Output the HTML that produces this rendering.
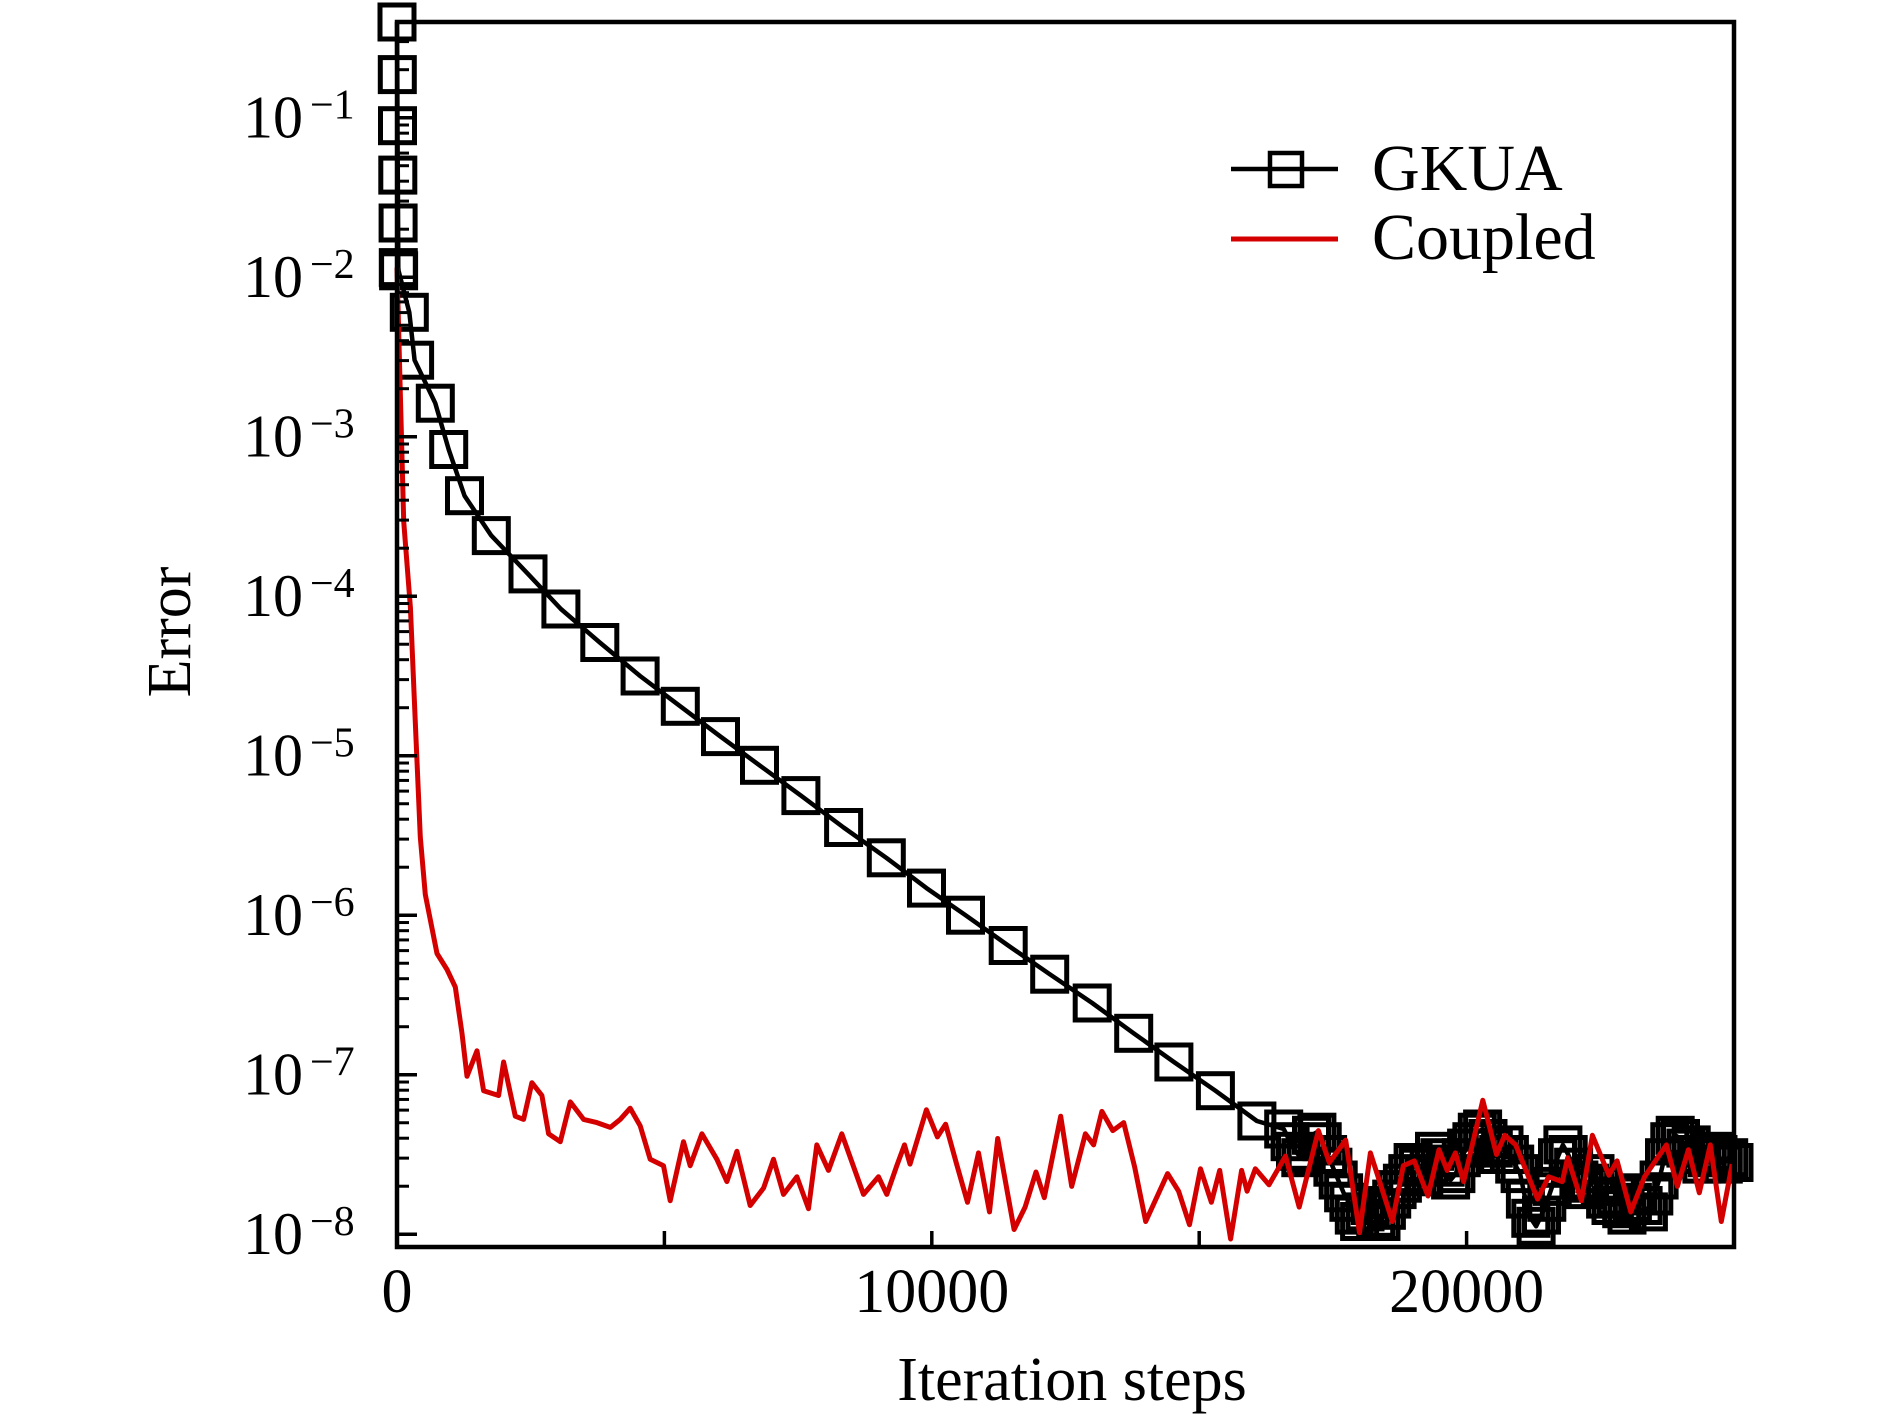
<!DOCTYPE html>
<html><head><meta charset="utf-8"><style>
html,body{margin:0;padding:0;background:#fff;}
svg{display:block;}
text{font-family:"Liberation Serif",serif;fill:#000;}
</style></head><body>
<svg id="chart" width="1890" height="1418" viewBox="0 0 1890 1418" xmlns="http://www.w3.org/2000/svg">
<g id="plot"></g>
<g id="axes"></g>
<text x="1072" y="1400" font-size="62" text-anchor="middle">Iteration steps</text>
<text transform="translate(190,632) rotate(-90)" font-size="62" text-anchor="middle">Error</text>
<g>
  <line x1="1231" y1="169" x2="1338" y2="169" stroke="#000" stroke-width="4.5"/>
  <rect x="1270" y="153" width="32" height="33" fill="none" stroke="#000" stroke-width="4.5"/>
  <text x="1372" y="190" font-size="66">GKUA</text>
  <line x1="1231" y1="239" x2="1338" y2="239" stroke="#d40000" stroke-width="5"/>
  <text x="1372" y="259" font-size="66">Coupled</text>
</g>
</svg>
<script>
const gkuaIter = [0,5,10,15,20,25,30,230,330,716,966,1263,1764,2449,3064,3793,4546,5297,6049,6779,7553,8351,9149,9900,10630,11428,12204,13000,13775,14527,15303,16079,16580];
const gkuaLog = [-0.40,-0.73,-1.05,-1.36,-1.66,-1.94,-1.96,-2.22,-2.52,-2.79,-3.08,-3.37,-3.62,-3.86,-4.08,-4.29,-4.50,-4.69,-4.88,-5.06,-5.25,-5.45,-5.64,-5.83,-6.00,-6.19,-6.37,-6.55,-6.74,-6.92,-7.10,-7.29,-7.34];
const gkuaNoisyStart = 16700;
const gkuaNoisyStep = 100;
const gkuaNoisyLog = [-7.42,-7.48,-7.52,-7.50,-7.38,-7.36,-7.42,-7.50,-7.58,-7.66,
-7.74,-7.80,-7.88,-7.92,-7.86,-7.82,-7.90,-7.92,-7.85,-7.78,
-7.72,-7.68,-7.62,-7.55,-7.58,-7.64,-7.56,-7.48,-7.52,-7.58,
-7.66,-7.62,-7.52,-7.46,-7.42,-7.36,-7.34,-7.40,-7.46,-7.50,
-7.44,-7.50,-7.56,-7.62,-7.78,-7.90,-7.95,-7.88,-7.80,-7.70,
-7.52,-7.44,-7.50,-7.58,-7.66,-7.72,-7.68,-7.62,-7.70,-7.78,
-7.82,-7.76,-7.84,-7.88,-7.80,-7.74,-7.82,-7.86,-7.76,-7.66,
-7.52,-7.42,-7.38,-7.40,-7.46,-7.44,-7.50,-7.56,-7.52,-7.48,
-7.50,-7.56,-7.52,-7.55];
const coupledIter = [0,125,250,343,436,530,748,935,1090,1215,1308,1495,1620,1900,1994,2212,2368,2523,2710,2835,3053,3240,3489,3738,3988,4174,4361,4548,4735,4984,5109,5358,5483,5701,5981,6168,6355,6604,6854,7040,7227,7477,7695,7850,8069,8318,8723,9003,9159,9346,9489,9592,9899,10104,10258,10463,10668,10873,11078,11232,11539,11744,11949,12103,12410,12615,12872,13026,13180,13384,13589,13794,13999,14409,14614,14819,15024,15229,15383,15588,15793,15896,16049,16306,16613,16869,17228,17433,17740,17997,18202,18612,18817,19022,19278,19483,19637,19791,19944,20303,20559,20713,20918,21328,21533,21789,21891,22147,22353,22660,22814,23070,23326,23736,23941,24147,24352,24557,24762,24967];
const coupledLog = [-1.94,-3.53,-4.07,-4.79,-5.51,-5.87,-6.24,-6.34,-6.45,-6.74,-7.01,-6.85,-7.10,-7.13,-6.92,-7.26,-7.28,-7.05,-7.13,-7.37,-7.42,-7.17,-7.28,-7.30,-7.33,-7.28,-7.21,-7.32,-7.53,-7.57,-7.79,-7.42,-7.57,-7.37,-7.53,-7.67,-7.48,-7.82,-7.71,-7.53,-7.75,-7.64,-7.84,-7.44,-7.60,-7.37,-7.75,-7.64,-7.75,-7.57,-7.44,-7.56,-7.22,-7.39,-7.31,-7.56,-7.80,-7.49,-7.86,-7.40,-7.97,-7.83,-7.61,-7.77,-7.26,-7.70,-7.37,-7.44,-7.23,-7.35,-7.30,-7.58,-7.92,-7.62,-7.73,-7.94,-7.59,-7.80,-7.60,-8.03,-7.60,-7.73,-7.59,-7.69,-7.51,-7.83,-7.35,-7.55,-7.41,-7.99,-7.49,-7.92,-7.57,-7.54,-7.76,-7.47,-7.60,-7.49,-7.67,-7.16,-7.50,-7.38,-7.44,-7.78,-7.64,-7.67,-7.52,-7.79,-7.38,-7.63,-7.54,-7.86,-7.64,-7.44,-7.70,-7.47,-7.74,-7.44,-7.92,-7.56];
const xTicks = [0,5000,10000,15000,20000,25000];
const xTickLabels = ["0","10000","20000"];
const xTickLabelVals = [0,10000,20000];
const yDecades = [-8,-7,-6,-5,-4,-3,-2,-1];

const L=397,R=1734,T=22,B=1247;
const X0=0,X1=25000;
const LOGTOP=-0.40, LOGBOT=-8.08;
function sx(v){return L+(v-X0)/(X1-X0)*(R-L);}
function sy(lg){return T+(LOGTOP-lg)/(LOGTOP-LOGBOT)*(B-T);}
const NS="http://www.w3.org/2000/svg";
function mk(tag,attrs,parent){const e=document.createElementNS(NS,tag);for(const k in attrs)e.setAttribute(k,attrs[k]);parent.appendChild(e);return e;}
const plot=document.getElementById('plot'), axes=document.getElementById('axes');

const allIter = gkuaIter.slice(), allLog = gkuaLog.slice();
gkuaNoisyLog.forEach((v,i)=>{allIter.push(gkuaNoisyStart+i*gkuaNoisyStep); allLog.push(v);});

let d='';
allIter.forEach((v,i)=>{d+=(i?'L':'M')+sx(v).toFixed(1)+','+sy(allLog[i]).toFixed(1);});
const gl=mk('path',{d:d,fill:'none',stroke:'#000','stroke-width':4.5,'stroke-linejoin':'round'},plot);


const mg=mk('g',{},plot);


allIter.forEach((v,i)=>{
  const r=mk('rect',{x:(sx(v)-17).toFixed(1),y:(sy(allLog[i])-17).toFixed(1),width:34,height:34,fill:'none',stroke:'#000','stroke-width':5},mg);
  
  
});
d='';
coupledIter.forEach((v,i)=>{d+=(i?'L':'M')+sx(v).toFixed(1)+','+sy(coupledLog[i]).toFixed(1);});
const cl=mk('path',{d:d,fill:'none',stroke:'#d40000','stroke-width':5,'stroke-linejoin':'round'},plot);



const fr=mk('rect',{x:L,y:T,width:R-L,height:B-T,fill:'none',stroke:'#000','stroke-width':4.5},axes);


xTicks.forEach(v=>{
  const t=mk('line',{x1:sx(v),x2:sx(v),y1:B,y2:B-16,stroke:'#000','stroke-width':3.5},axes);
  
  
});
xTickLabelVals.forEach((v,i)=>{
  const t=mk('text',{x:sx(v),y:1312,'font-size':62,'text-anchor':'middle'},axes);
  t.textContent=xTickLabels[i];
  
  
});
yDecades.forEach(dec=>{
  const y=sy(dec);
  const t=mk('line',{x1:L,x2:L+20,y1:y,y2:y,stroke:'#000','stroke-width':3.5},axes);
  
  
  for(let m=2;m<=9;m++){
    const ym=sy(dec+Math.log10(m));
    if(ym<T) continue;
    const mt=mk('line',{x1:L,x2:L+12,y1:ym,y2:ym,stroke:'#000','stroke-width':3},axes);
    
    
  }
  const lb=mk('text',{x:303,y:y+20,'font-size':60,'text-anchor':'end'},axes);
  lb.textContent='10';
  
  
  const sp=mk('text',{x:310,y:y+1,'font-size':42},axes);
  sp.textContent='\u2212'+(-dec);
  
  
});
</script>
</body></html>
